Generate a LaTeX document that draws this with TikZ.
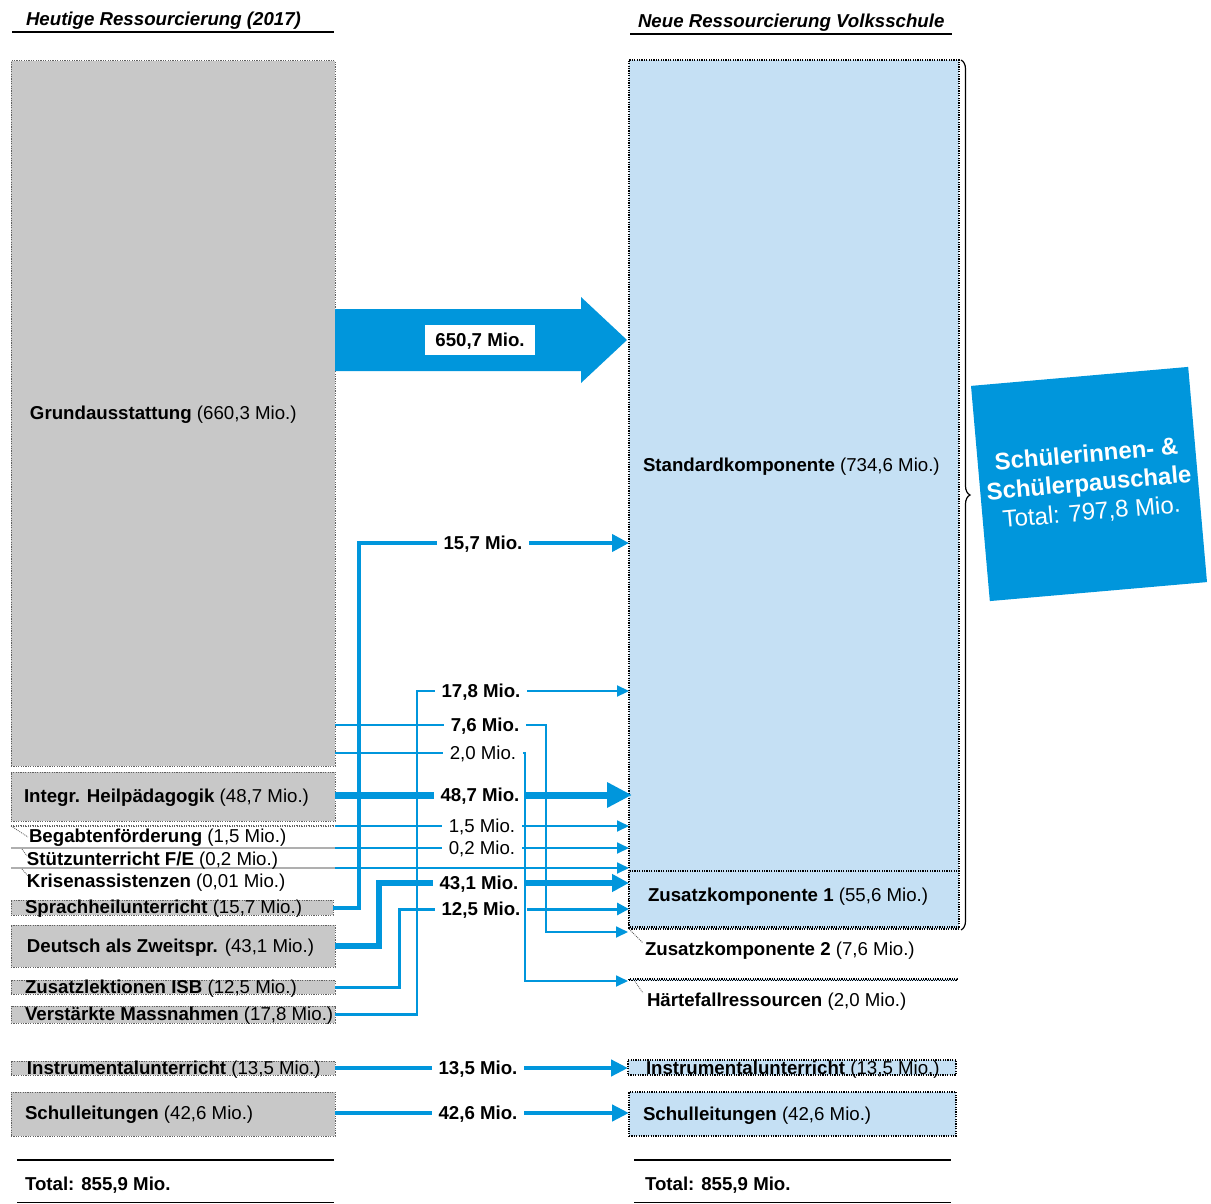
\documentclass[tikz,border=0pt]{standalone}
\usepackage{fontspec}
\setmainfont{Liberation Sans}
\usetikzlibrary{arrows.meta,decorations.pathreplacing,calc}
\definecolor{zhblue}{HTML}{0096DC}
\definecolor{boxgray}{HTML}{C8C8C8}
\definecolor{boxblue}{HTML}{C5E0F4}
\definecolor{dotgray}{HTML}{606060}
\begin{document}
\begin{tikzpicture}[x=1pt,y=-1pt,
  txt/.style={font=\fontsize{18.67}{22}\selectfont, inner sep=0pt, outer sep=0pt, text height=15pt, text depth=1.6pt},
  lbl/.style={txt, anchor=west},
  val/.style={txt, inner xsep=7pt},
  valb/.style={val, font=\fontsize{18.67}{22}\selectfont\bfseries},
  dots/.style={dash pattern=on 1.2pt off 1.2pt},
  gbox/.style={draw=dotgray, dots, line width=1pt, fill=boxgray, anchor=north west, inner sep=0pt, outer sep=0pt},
  bbox/.style={draw=black, dots, line width=1.3pt, fill=boxblue, anchor=north west, inner sep=0pt, outer sep=0pt},
  bar/.style={draw=dotgray!50, line width=0.8pt, anchor=north west, inner sep=0pt, outer sep=0pt, minimum height=1pt, minimum width=324pt},
  flow/.style={draw=zhblue, line width=#1},
  arrowtip/.style 2 args={-{Triangle[length=#1,width=#2]}},
  tick/.style={draw=dotgray, dash pattern=on 1pt off 1pt, line width=0.8pt}
]
\useasboundingbox (0,0) rectangle (1211,1204);

% ---------- headers ----------
\node[lbl, font=\fontsize{18.67}{22}\selectfont\bfseries\itshape] (hdrL) at (26,19) {Heutige Ressourcierung (2017)};
\node[lbl, font=\fontsize{18.67}{22}\selectfont\bfseries\itshape] (hdrR) at (638,21) {Neue Ressourcierung Volksschule};
\draw[line width=2pt] (12,32) -- (334,32);
\draw[line width=2pt] (630,34) -- (952,34);

% ---------- left boxes ----------
\node[gbox, minimum width=324pt, minimum height=705pt] (grund) at (11,61) {};
\node[gbox, minimum width=324pt, minimum height=49pt] (heil) at (11,772) {};
\node[bar, draw=dotgray, dots] (begab) at (11,825.5) {};
\node[bar] (stuetz) at (11,847.5) {};
\node[bar] (krisen) at (11,867.5) {};
\node[gbox, minimum width=322pt, minimum height=15pt] (sprach) at (11,900) {};
\node[gbox, minimum width=324pt, minimum height=42pt] (daz) at (11,925) {};
\node[gbox, minimum width=324pt, minimum height=14pt] (isb) at (11,980) {};
\node[gbox, minimum width=324pt, minimum height=17pt] (verst) at (11,1006) {};
\node[gbox, minimum width=324pt, minimum height=14pt] (instrL) at (11,1061) {};
\node[gbox, minimum width=324pt, minimum height=44pt] (schulL) at (11,1092) {};

\node[lbl] (grundlbl) at (30,413) {\textbf{Grundausstattung} (660,3 Mio.)};
\node[lbl] (heillbl) at (24,796) {\textbf{Integr. Heilpädagogik} (48,7 Mio.)};
\node[lbl] (begablbl) at (29,836) {\textbf{Begabtenförderung} (1,5 Mio.)};
\node[lbl] (stuetzlbl) at (27,859) {\textbf{Stützunterricht F/E} (0,2 Mio.)};
\node[lbl] (krisenlbl) at (27,881) {\textbf{Krisenassistenzen} (0,01 Mio.)};
\node[lbl] (sprachlbl) at (25,907) {\textbf{Sprachheilunterricht} (15,7 Mio.)};
\node[lbl] (dazlbl) at (27,946) {\textbf{Deutsch als Zweitspr.} (43,1 Mio.)};
\node[lbl] (isblbl) at (25,987) {\textbf{Zusatzlektionen ISB} (12,5 Mio.)};
\node[lbl] (verstlbl) at (25,1014) {\textbf{Verstärkte Massnahmen} (17,8 Mio.)};
\node[lbl] (instrLlbl) at (27,1068) {\textbf{Instrumentalunterricht} (13,5 Mio.)};
\node[lbl] (schulLlbl) at (25,1113) {\textbf{Schulleitungen} (42,6 Mio.)};

\draw[tick] (begab.west) -- ($(begablbl.west)+(-1,1)$);
\draw[tick] ($(stuetz.west)+(11,1)$) -- ($(stuetzlbl.west)+(0,-3)$);
\draw[tick] ($(krisen.west)+(11,1)$) -- ($(krisenlbl.west)+(1,-5)$);

% ---------- right boxes ----------
\node[bbox, minimum width=330pt, minimum height=868pt] (std) at (629,60) {};
\node[bbox, minimum width=330pt, minimum height=57pt] (zk1) at (629,871) {};
\node[bbox, minimum width=330pt, minimum height=2pt] (zk2) at (629,927) {};
\node[bbox, minimum width=328pt, minimum height=1.5pt] (hf) at (629,979) {};
\node[bbox, minimum width=328pt, minimum height=15pt] (instrR) at (628,1060) {};
\node[bbox, minimum width=327pt, minimum height=44pt] (schulR) at (629,1092) {};

\node[lbl] (stdlbl) at (643,465) {\textbf{Standardkomponente} (734,6 Mio.)};
\node[lbl] (zk1lbl) at (648,895) {\textbf{Zusatzkomponente 1} (55,6 Mio.)};
\node[lbl] (zk2lbl) at (645,949) {\textbf{Zusatzkomponente 2} (7,6 Mio.)};
\node[lbl] (hflbl) at (647,1000) {\textbf{Härtefallressourcen} (2,0 Mio.)};
\node[lbl] (instrRlbl) at (646,1068) {\textbf{Instrumentalunterricht} (13,5 Mio.)};
\node[lbl] (schulRlbl) at (643,1114) {\textbf{Schulleitungen} (42,6 Mio.)};

\draw[tick] (zk2.south west) -- ($(zk2lbl.west)+(-2,-6)$);
\draw[tick] ($(hf.south west)+(6,1)$) -- ($(hflbl.west)+(-4,-7)$);

% brace and total box
\draw[decorate, decoration={brace, amplitude=9pt}, line width=1.2pt] (961,60) -- (961,930);
\node[fill=zhblue, rotate=5, minimum width=218pt, minimum height=216pt, inner sep=0pt,
      text=white, align=center, font=\fontsize{24}{29}\selectfont] (pausch) at (1089,484)
  {\textbf{Schülerinnen- \&}\\\textbf{Schülerpauschale}\\Total: 797,8 Mio.};

% ---------- big arrow ----------
\fill[zhblue] (335,309) -- (581,309) -- (581,297) -- (627,340) -- (581,383) -- (581,371) -- (335,371) -- cycle;
\node[valb, fill=white, inner xsep=10pt, inner ysep=7pt] (v650) at (480,340) {650,7 Mio.};

% ---------- value labels ----------
\node[valb] (v157) at (483,543) {15,7 Mio.};
\node[valb] (v178) at (481,691) {17,8 Mio.};
\node[valb] (v76) at (485,725) {7,6 Mio.};
\node[val] (v20) at (483,753) {2,0 Mio.};
\node[valb] (v487) at (480,795) {48,7 Mio.};
\node[val] (v15) at (482,826) {1,5 Mio.};
\node[val] (v02) at (482,848) {0,2 Mio.};
\node[valb] (v431) at (479,883) {43,1 Mio.};
\node[valb] (v125) at (481,909) {12,5 Mio.};
\node[valb] (v135) at (478,1068) {13,5 Mio.};
\node[valb] (v426) at (478,1113) {42,6 Mio.};

\coordinate (t76) at (628,932);
\coordinate (t20) at (628,981);

% ---------- connectors ----------
% 15,7
\draw[flow=4pt] (sprach.east) -- ++(26,0) |- (v157.west);
\draw[flow=4pt, arrowtip={17pt}{17pt}] (v157.east) -- (v157.east -| std.west);
% 17,8
\draw[flow=2.2pt] (verst.east) -- ++(82,0) |- (v178.west);
\draw[flow=2.2pt, arrowtip={12pt}{11pt}] (v178.east) -- (v178.east -| std.west);
% 7,6
\draw[flow=1.8pt] (v76.west -| grund.east) -- (v76.west);
\draw[flow=1.8pt, arrowtip={12pt}{11pt}] (v76.east) -- ++(20,0) |- (t76);
% 2,0
\draw[flow=1.8pt] (v20.west -| grund.east) -- (v20.west);
\draw[flow=1.8pt, arrowtip={12pt}{11pt}] (v20.east) -- ++(2,0) |- (t20);
% 48,7
\draw[flow=7pt] (v487.west -| heil.east) -- (v487.west);
\draw[flow=7pt, arrowtip={25pt}{24pt}] (v487.east) -- ($(v487.east -| std.west)+(3,0)$);
% 1,5
\draw[flow=1.8pt] (begab.east) -- (v15.west);
\draw[flow=1.8pt, arrowtip={12pt}{11pt}] (v15.east) -- (v15.east -| std.west);
% 0,2
\draw[flow=1.8pt] (stuetz.east) -- (v02.west);
\draw[flow=1.8pt, arrowtip={12pt}{11pt}] (v02.east) -- (v02.east -| std.west);
% Krisenassistenzen
\draw[flow=1.8pt, arrowtip={12pt}{11pt}] (krisen.east) -- (krisen.east -| std.west);
% 43,1
\draw[flow=5.5pt] (daz.east) -- ++(44,0) |- (v431.west);
\draw[flow=5.5pt, arrowtip={17pt}{17pt}] (v431.east) -- (v431.east -| std.west);
% 12,5
\draw[flow=3pt] (isb.east) -- ++(64,0) |- (v125.west);
\draw[flow=3pt, arrowtip={12pt}{12pt}] (v125.east) -- (v125.east -| std.west);
% 13,5
\draw[flow=4.5pt] (v135.west -| instrL.east) -- (v135.west);
\draw[flow=4.5pt, arrowtip={17pt}{16pt}] (v135.east) -- (v135.east -| instrR.west);
% 42,6
\draw[flow=4.5pt] (v426.west -| schulL.east) -- (v426.west);
\draw[flow=4.5pt, arrowtip={17pt}{16pt}] (v426.east) -- (v426.east -| schulR.west);

% ---------- totals ----------
\draw[line width=2.5pt] (17,1160) -- (334,1160);
\draw[line width=1.2pt] (17,1202.5) -- (334,1202.5);
\draw[line width=2.5pt] (634,1160) -- (951,1160);
\draw[line width=1.2pt] (634,1202.5) -- (951,1202.5);
\node[lbl, font=\fontsize{18.67}{22}\selectfont\bfseries] (totL) at (25,1184) {Total: 855,9 Mio.};
\node[lbl, font=\fontsize{18.67}{22}\selectfont\bfseries] (totR) at (645,1184) {Total: 855,9 Mio.};
\end{tikzpicture}
\end{document}
